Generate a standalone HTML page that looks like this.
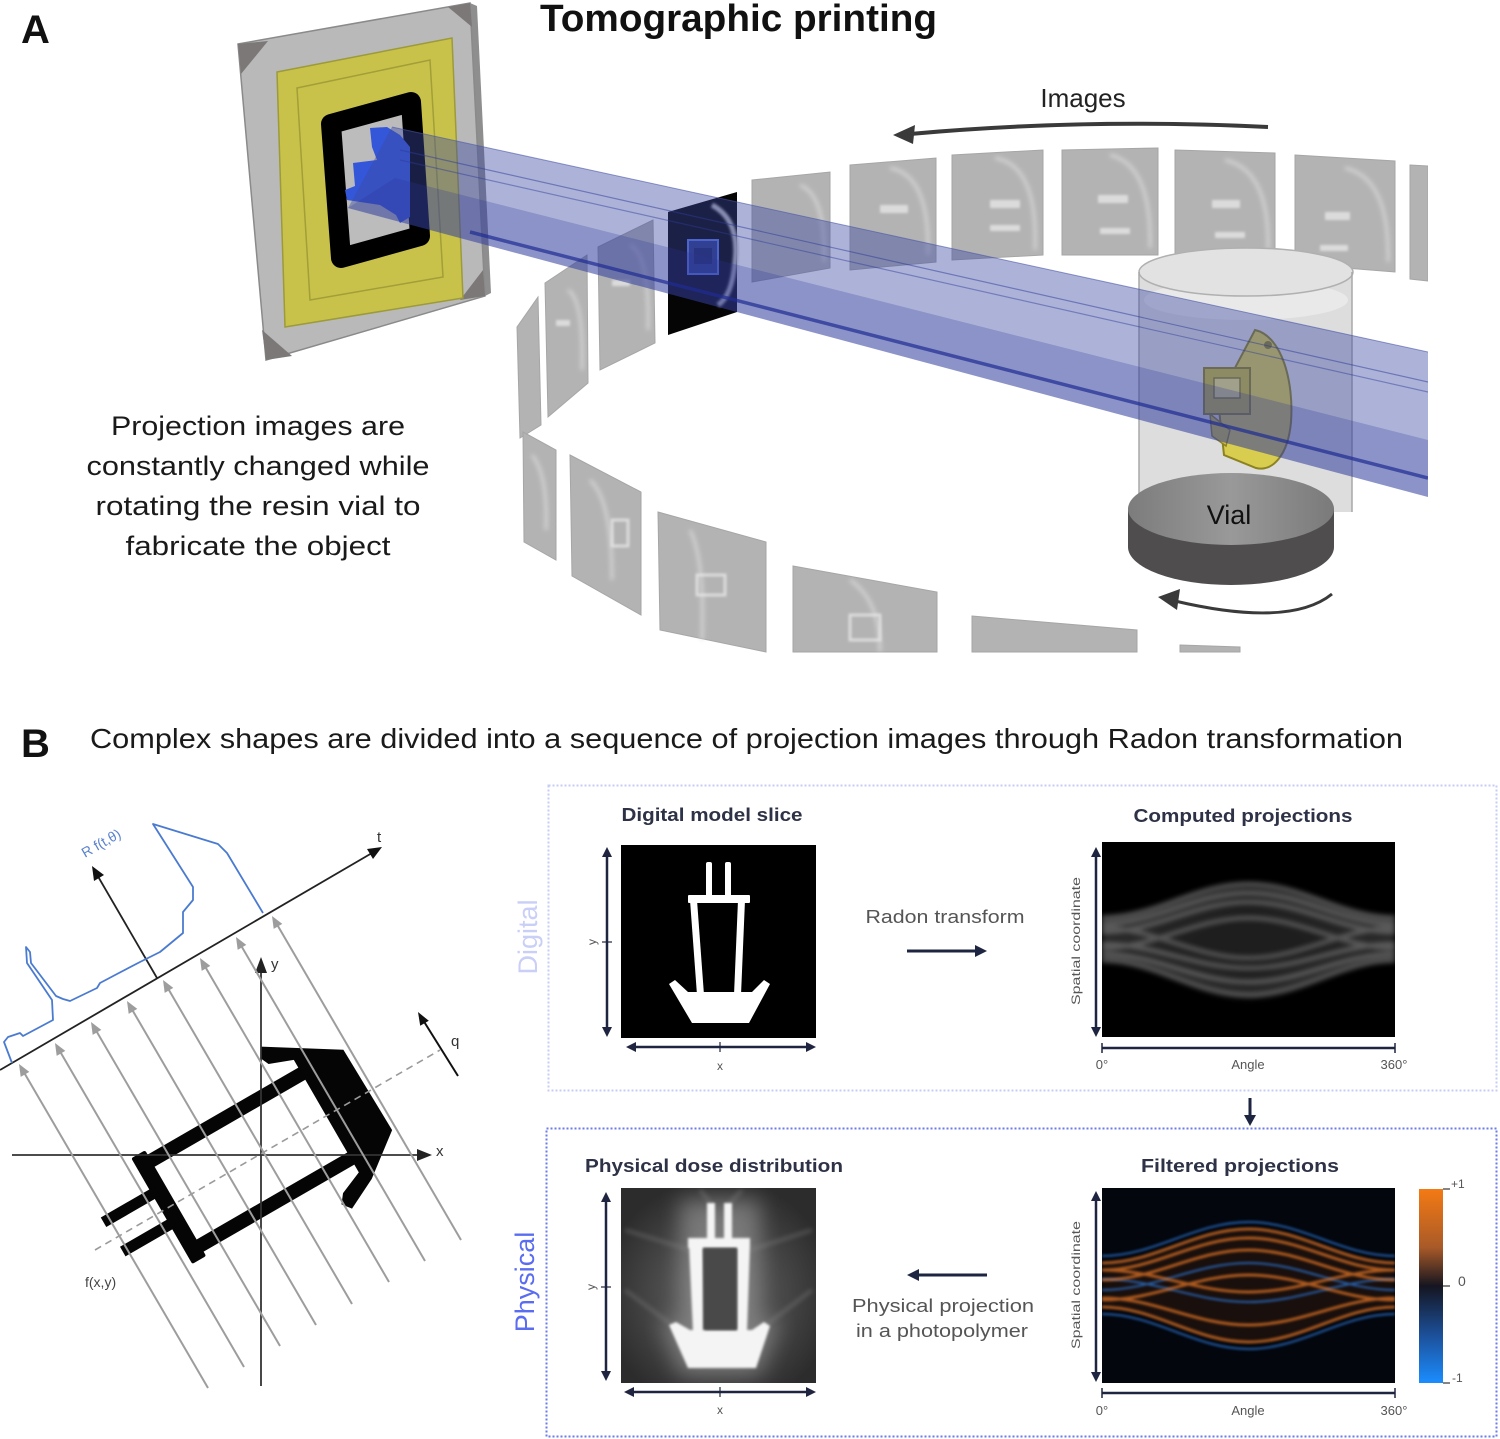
<!DOCTYPE html>
<html><head><meta charset="utf-8"><style>
html,body{margin:0;padding:0;background:#fff;}
svg{display:block;}
text{font-family:"Liberation Sans",sans-serif;}
</style></head><body>
<svg width="1500" height="1439" viewBox="0 0 1500 1439" xmlns="http://www.w3.org/2000/svg">
<defs>
 <filter id="b1" x="-20%" y="-20%" width="140%" height="140%"><feGaussianBlur stdDeviation="1.2"/></filter>
 <filter id="b2" x="-20%" y="-20%" width="140%" height="140%"><feGaussianBlur stdDeviation="2.5"/></filter>
 <filter id="b3" x="-20%" y="-20%" width="140%" height="140%"><feGaussianBlur stdDeviation="3.5"/></filter>
 <filter id="b6" x="-50%" y="-50%" width="200%" height="200%"><feGaussianBlur stdDeviation="10"/></filter>
 <linearGradient id="cbar" x1="0" y1="0" x2="0" y2="1">
  <stop offset="0" stop-color="#f47a14"/>
  <stop offset="0.3" stop-color="#a95a28"/>
  <stop offset="0.5" stop-color="#151520"/>
  <stop offset="0.75" stop-color="#1c4f98"/>
  <stop offset="1" stop-color="#1b8dff"/>
 </linearGradient>
 <radialGradient id="dose" cx="0.5" cy="0.55" r="0.6">
  <stop offset="0" stop-color="#6a6a6a"/>
  <stop offset="1" stop-color="#2c2c2c"/>
 </radialGradient>
 <linearGradient id="vialtop" x1="0" y1="0" x2="1" y2="0">
  <stop offset="0" stop-color="#7c7c7c"/>
  <stop offset="0.5" stop-color="#999"/>
  <stop offset="1" stop-color="#7a7a7a"/>
 </linearGradient>
 <clipPath id="clipA"><rect x="0" y="0" width="1428" height="653"/></clipPath>
 <clipPath id="clipC"><rect x="1102" y="842" width="293" height="195"/></clipPath>
 <clipPath id="clipF"><rect x="1102" y="1188" width="293" height="195"/></clipPath>
 <clipPath id="clipD"><rect x="621" y="1188" width="195" height="195"/></clipPath>
</defs>

<!-- ================= PART A ================= -->
<text x="21" y="43" font-size="40" font-weight="bold" fill="#111">A</text>
<text x="540" y="31" font-size="38" font-weight="bold" fill="#111" textLength="397" lengthAdjust="spacingAndGlyphs">Tomographic printing</text>

<g clip-path="url(#clipA)">
 <g fill="#b3b3b3" stroke="#a6a6a6" stroke-width="1">
  <polygon points="752,180 830,172 830,268 752,282"/>
  <polygon points="850,165 936,158 936,262 850,270"/>
  <polygon points="952,155 1043,150 1043,255 952,260"/>
  <polygon points="1062,150 1158,148 1158,255 1062,255"/>
  <polygon points="1175,150 1275,153 1275,262 1175,257"/>
  <polygon points="1295,155 1395,161 1395,272 1295,264"/>
  <polygon points="1410,165 1428,166 1428,281 1410,279"/>
  <polygon points="598,247 653,220 655,343 600,370"/>
  <polygon points="545,283 587,255 588,383 548,417"/>
  <polygon points="517,327 538,297 541,425 520,438"/>
 </g>
 <g filter="url(#b2)" fill="none" stroke="#dadada" stroke-width="3" opacity="0.9">
  <path d="M890,168 Q930,175 928,255"/>
  <path d="M995,158 Q1038,165 1035,250"/>
  <path d="M1110,155 Q1152,165 1150,248"/>
  <path d="M1225,160 Q1270,170 1268,250"/>
  <path d="M1345,168 Q1390,178 1388,262"/>
  <path d="M800,185 Q826,195 824,262"/>
  <path d="M630,245 Q650,255 648,330"/>
  <path d="M568,290 Q584,300 582,370"/>
 </g>
 <g filter="url(#b1)" fill="#e6e6e6" opacity="0.8">
  <rect x="880" y="205" width="28" height="8"/>
  <rect x="990" y="200" width="30" height="8"/><rect x="990" y="225" width="30" height="6"/>
  <rect x="1098" y="195" width="30" height="8"/><rect x="1100" y="228" width="30" height="6"/>
  <rect x="1212" y="200" width="28" height="8"/><rect x="1215" y="232" width="30" height="6"/>
  <rect x="1325" y="212" width="25" height="8"/><rect x="1320" y="245" width="28" height="6"/>
  <rect x="612" y="280" width="18" height="6"/><rect x="556" y="320" width="14" height="6"/>
 </g>

 <path d="M1139,272 L1139,512 L1352,512 L1352,272 Z" fill="#cfcfcf" opacity="0.7"/>
 <ellipse cx="1246" cy="300" rx="102" ry="20" fill="#ececec" opacity="0.8"/>
 <ellipse cx="1246" cy="272" rx="107" ry="24" fill="#e2e2e2" stroke="#b0b0b0" stroke-width="1.5"/>
 <line x1="1139" y1="272" x2="1139" y2="512" stroke="#a8a8a8" stroke-width="1.5"/>
 <line x1="1352" y1="272" x2="1352" y2="512" stroke="#a8a8a8" stroke-width="1.5"/>

 <g>
  <path d="M1255,330 C1282,336 1294,382 1291,422 C1288,456 1272,472 1256,468 L1224,455 L1218,400 Z" fill="#d9cd4f" stroke="#8c8222" stroke-width="2"/>
  <rect x="1204" y="368" width="46" height="46" fill="#c8ba36" stroke="#8c8222" stroke-width="2"/>
  <rect x="1214" y="378" width="26" height="20" fill="#e8df7a" stroke="#8c8222" stroke-width="1.5"/>
  <path d="M1210,414 L1230,430 L1226,446 L1212,436 Z" fill="#cfc240" stroke="#8c8222" stroke-width="1.5"/>
  <circle cx="1268" cy="345" r="4" fill="#8c8222"/>
 </g>

 <polygon points="668,212 737,192 737,312 668,335" fill="#050505"/>
 <path d="M712,205 Q740,220 735,262 Q732,296 718,305" fill="none" stroke="#bdbdbd" stroke-width="5" filter="url(#b1)"/>
 <rect x="688" y="240" width="30" height="34" fill="#2b3a8a" stroke="#5a78e8" stroke-width="2"/>
 <rect x="694" y="248" width="18" height="16" fill="#1a2566"/>

 <!-- frame / projector -->
 <polygon points="470,3 477,6 491,293 485,296" fill="#8e8e8e"/>
 <polygon points="238,44 470,3 485,296 266,360" fill="#b9b9b9" stroke="#8a8a8a" stroke-width="1.5"/>
 <g fill="#7d7878">
  <polygon points="238,44 268,41 241,74"/>
  <polygon points="448,7 470,3 472,27"/>
  <polygon points="483,270 485,296 460,300"/>
  <polygon points="262,330 266,360 292,356"/>
 </g>
 <polygon points="277,72 452,38 463,298 285,327" fill="#c8c24a" stroke="#9c9a3a" stroke-width="1.5"/>
 <polygon points="297,88 430,60 443,277 310,300" fill="none" stroke="#a29e38" stroke-width="1.5"/>
 <polygon points="331,124 411,102 420,236 341,258" fill="#bcbcbc" stroke="#000" stroke-width="20" stroke-linejoin="round"/>
 <polygon points="370,128 387,127 400,135 410,147 410,217 400,223 396,215 380,205 347,200 345,190 355,186 353,163 377,160 372,147" fill="#3456d8"/>

 <!-- beam -->
 <polygon points="392,127 1428,352 1428,497 348,208" fill="#3c4aa2" opacity="0.42"/>
 <polygon points="395,178 1428,440 1428,497 348,208" fill="#2a3596" opacity="0.25"/>
 <line x1="400" y1="150" x2="1428" y2="382" stroke="#2f3a98" stroke-width="1.2" opacity="0.5"/>
 <line x1="400" y1="160" x2="1428" y2="392" stroke="#2f3a98" stroke-width="1.2" opacity="0.45"/>
 <line x1="470" y1="232" x2="1428" y2="478" stroke="#1f2c92" stroke-width="3.5" opacity="0.7"/>
 <line x1="392" y1="127" x2="1428" y2="352" stroke="#4a56a8" stroke-width="1" opacity="0.6"/>

 <g fill="#b3b3b3" stroke="#a6a6a6" stroke-width="1">
  <polygon points="523,432 556,450 556,560 524,542"/>
  <polygon points="570,455 641,492 641,615 572,576"/>
  <polygon points="658,512 766,542 766,652 660,630"/>
  <polygon points="793,566 937,592 937,652 793,652"/>
  <polygon points="972,616 1137,630 1137,652 972,652"/>
  <polygon points="1180,645 1240,647 1240,652 1180,652"/>
 </g>
 <g filter="url(#b2)" fill="none" stroke="#dadada" stroke-width="3" opacity="0.9">
  <path d="M532,455 Q548,475 546,530"/>
  <path d="M590,480 Q612,500 612,580"/>
  <path d="M690,530 Q705,560 702,640"/>
  <path d="M850,580 Q880,600 880,652"/>
 </g>
 <g filter="url(#b1)" fill="none" stroke="#e6e6e6" stroke-width="3" opacity="0.8">
  <rect x="697" y="575" width="28" height="20"/>
  <rect x="612" y="520" width="16" height="26"/>
  <rect x="850" y="615" width="30" height="25"/>
 </g>

 <path d="M1128,509 L1128,547 A103,38 0 0 0 1334,547 L1334,509 Z" fill="#4f4d4d"/>
 <ellipse cx="1231" cy="509" rx="103" ry="36" fill="url(#vialtop)"/>
</g>

<text x="1229" y="524" font-size="27" fill="#111" text-anchor="middle">Vial</text>
<text x="1083" y="107" font-size="26" fill="#222" text-anchor="middle">Images</text>
<path d="M1268,127 Q1085,118 910,134" fill="none" stroke="#3a3a3a" stroke-width="4"/>
<polygon points="893,135 915,125 913,144" fill="#3a3a3a"/>
<path d="M1332,594 Q1290,628 1175,601" fill="none" stroke="#3a3a3a" stroke-width="3"/>
<polygon points="1158,597 1180,589 1177,610" fill="#3a3a3a"/>

<g font-size="27" fill="#1a1a1a" text-anchor="middle">
 <text x="258" y="435" textLength="294" lengthAdjust="spacingAndGlyphs">Projection images are</text>
 <text x="258" y="475" textLength="343" lengthAdjust="spacingAndGlyphs">constantly changed while</text>
 <text x="258" y="515" textLength="325" lengthAdjust="spacingAndGlyphs">rotating the resin vial to</text>
 <text x="258" y="555" textLength="265" lengthAdjust="spacingAndGlyphs">fabricate the object</text>
</g>

<!-- ================= PART B ================= -->
<text x="21" y="757" font-size="40" font-weight="bold" fill="#111">B</text>
<text x="90" y="748" font-size="28" fill="#1a1a1a" textLength="1313" lengthAdjust="spacingAndGlyphs">Complex shapes are divided into a sequence of projection images through Radon transformation</text>

<g>
 <g transform="translate(261,1155) rotate(-30)" fill="#050505">
  <rect x="-110" y="-57" width="190" height="14"/>
  <rect x="-110" y="41" width="190" height="14"/>
  <rect x="-114" y="-62" width="16" height="122" rx="2"/>
  <rect x="-170" y="-26" width="62" height="11"/>
  <rect x="-168" y="9" width="60" height="11"/>
  <polygon points="48,-84 54,-94 124,-50 126,44 84,76 52,92 45,83 52,74 76,64 76,-66 52,-75"/>
 </g>
 <line x1="261" y1="1386" x2="261" y2="970" stroke="#333" stroke-width="1.8"/>
 <polygon points="261,957 255,973 267,973" fill="#222"/>
 <line x1="12" y1="1155" x2="420" y2="1155" stroke="#333" stroke-width="1.8"/>
 <polygon points="432,1155 417,1149 417,1161" fill="#222"/>
 <line x1="95" y1="1250" x2="440" y2="1050" stroke="#9a9a9a" stroke-width="1.6" stroke-dasharray="7,5"/>
 <g stroke="#9d9d9d" stroke-width="2">
  <line x1="208" y1="1388" x2="22" y2="1069"/>
  <line x1="244" y1="1367" x2="58" y2="1048"/>
  <line x1="280" y1="1346" x2="94" y2="1027"/>
  <line x1="316" y1="1325" x2="130" y2="1006"/>
  <line x1="352" y1="1304" x2="166" y2="985"/>
  <line x1="389" y1="1282" x2="203" y2="963"/>
  <line x1="425" y1="1261" x2="239" y2="942"/>
  <line x1="461" y1="1240" x2="275" y2="921"/>
 </g>
 <g fill="#9d9d9d">
  <polygon points="19,1064 29.3,1071.9 20.7,1076.9"/>
  <polygon points="55,1043 65.3,1050.9 56.7,1055.9"/>
  <polygon points="91,1022 101.3,1029.9 92.7,1034.9"/>
  <polygon points="127,1001 137.3,1008.9 128.7,1013.9"/>
  <polygon points="163,980 173.3,987.9 164.7,992.9"/>
  <polygon points="200,958 210.3,965.9 201.7,970.9"/>
  <polygon points="236,937 246.3,944.9 237.7,949.9"/>
  <polygon points="272,916 282.3,923.9 273.7,928.9"/>
 </g>
 <line x1="0" y1="1070" x2="372" y2="853" stroke="#222" stroke-width="1.8"/>
 <polygon points="382,847 367,849 373,859" fill="#111"/>
 <line x1="157" y1="978" x2="96" y2="873" stroke="#222" stroke-width="1.8"/>
 <polygon points="92,866 104,875 94,881" fill="#111"/>
 <polyline fill="none" stroke="#4a7bd0" stroke-width="1.8" stroke-linejoin="round" points="12,1063 4,1042 8,1037 20,1033 23,1036 53,1020 52,1000 27,963 26,947 30,952 31,963 56,996 63,999 70,1001 97,988 100,983 117,974 140,962 160,952 183,933 183,912 193,900 193,887 153,824 218,844 227,853 263,913"/>
 <line x1="458" y1="1076" x2="423" y2="1020" stroke="#111" stroke-width="2"/>
 <polygon points="418,1012 428.8,1020.8 420.2,1025.8" fill="#111"/>
 <text x="377" y="842" font-size="15" fill="#333">t</text>
 <text x="271" y="969" font-size="15" fill="#333">y</text>
 <text x="436" y="1156" font-size="15" fill="#333">x</text>
 <text x="451" y="1046" font-size="15" fill="#333">q</text>
 <text x="85" y="1287" font-size="14" fill="#444">f(x,y)</text>
 <text transform="translate(85,858) rotate(-30)" font-size="14" fill="#5a82cc">R f(t,θ)</text>
</g>

<rect x="548.5" y="785.5" width="948" height="305" fill="none" stroke="#c6cdf4" stroke-width="2" stroke-dasharray="2,2"/>
<rect x="546.5" y="1128.5" width="950" height="308" fill="none" stroke="#6a7de8" stroke-width="2" stroke-dasharray="2,2"/>
<text transform="translate(537,937) rotate(-90)" font-size="27" fill="#c9cff6" text-anchor="middle">Digital</text>
<text transform="translate(534,1282) rotate(-90)" font-size="27" fill="#5a6cf0" text-anchor="middle">Physical</text>

<g font-size="18" font-weight="bold" fill="#2e3246" text-anchor="middle">
 <text x="712" y="821" textLength="181" lengthAdjust="spacingAndGlyphs">Digital model slice</text>
 <text x="1243" y="822" textLength="219" lengthAdjust="spacingAndGlyphs">Computed projections</text>
 <text x="714" y="1172" textLength="258" lengthAdjust="spacingAndGlyphs">Physical dose distribution</text>
 <text x="1240" y="1172" textLength="198" lengthAdjust="spacingAndGlyphs">Filtered projections</text>
</g>
<g font-size="18" fill="#555" text-anchor="middle">
 <text x="945" y="923" textLength="159" lengthAdjust="spacingAndGlyphs">Radon transform</text>
 <text x="943" y="1312" textLength="182" lengthAdjust="spacingAndGlyphs">Physical projection</text>
 <text x="942" y="1337" textLength="172" lengthAdjust="spacingAndGlyphs">in a photopolymer</text>
</g>
<line x1="907" y1="951" x2="978" y2="951" stroke="#1e2540" stroke-width="3"/>
<polygon points="987,951 975,945 975,957" fill="#1e2540"/>
<line x1="987" y1="1275" x2="917" y2="1275" stroke="#1e2540" stroke-width="3"/>
<polygon points="907,1275 919,1269 919,1281" fill="#1e2540"/>
<line x1="1250" y1="1098" x2="1250" y2="1117" stroke="#1e2540" stroke-width="3"/>
<polygon points="1250,1126 1244,1115 1256,1115" fill="#1e2540"/>

<rect x="621" y="845" width="195" height="193" fill="#000"/>
<g fill="#fff">
 <rect x="706" y="862" width="6" height="37" rx="2"/>
 <rect x="725" y="862" width="6" height="37" rx="2"/>
 <rect x="688" y="895" width="62" height="8" rx="1"/>
 <polygon points="690,900 697,900 704,995 697,995"/>
 <polygon points="738,900 745,900 741,995 734,995"/>
 <polygon points="669,984 675,980 688,992 752,992 764,980 770,984 749,1023 692,1023"/>
</g>

<rect x="1102" y="842" width="293" height="195" fill="#000"/>
<g clip-path="url(#clipC)">
 <path d="M1102,916 C1155,916 1195,883 1248.5,883 S1342,916 1395,916 L1395,962 C1342,962 1302,998 1248.5,998 S1155,962 1102,962 Z" fill="#fff" opacity="0.16" filter="url(#b3)"/>
 <path d="M1140,940 L1248.5,895 L1357,940 L1248.5,985 Z" fill="#000" opacity="0.25" filter="url(#b6)"/>
 <g fill="none" stroke="#fff" stroke-width="5" opacity="0.22" filter="url(#b2)">
  <path d="M1102,918 C1155,918 1195,884 1248.5,884 S1342,918 1395,918"/>
  <path d="M1102,924 C1155,924 1195,893 1248.5,893 S1342,924 1395,924"/>
  <path d="M1102,932 C1155,932 1195,902 1248.5,902 S1342,932 1395,932"/>
  <path d="M1102,948 C1155,948 1195,918 1248.5,918 S1342,948 1395,948"/>
  <path d="M1102,960 C1155,960 1195,995 1248.5,995 S1342,960 1395,960"/>
  <path d="M1102,954 C1155,954 1195,982 1248.5,982 S1342,954 1395,954"/>
  <path d="M1102,944 C1155,944 1195,968 1248.5,968 S1342,944 1395,944"/>
  <path d="M1102,928 C1155,928 1195,958 1248.5,958 S1342,928 1395,928"/>
 </g>
</g>

<rect x="621" y="1188" width="195" height="195" fill="url(#dose)"/>
<g clip-path="url(#clipD)">
 <g fill="#9a9a9a" opacity="0.6" filter="url(#b6)">
  <rect x="680" y="1200" width="80" height="140"/>
  <polygon points="660,1320 780,1320 760,1375 680,1375"/>
 </g>
 <g stroke="#888" stroke-width="3" opacity="0.45" filter="url(#b2)">
  <line x1="690" y1="1250" x2="625" y2="1230"/>
  <line x1="750" y1="1250" x2="812" y2="1230"/>
  <line x1="672" y1="1325" x2="625" y2="1290"/>
  <line x1="766" y1="1325" x2="812" y2="1290"/>
  <line x1="712" y1="1205" x2="700" y2="1190"/>
  <line x1="728" y1="1205" x2="742" y2="1190"/>
 </g>
 <g fill="#f4f4f4" filter="url(#b1)">
  <rect x="707" y="1203" width="8" height="40"/>
  <rect x="724" y="1203" width="8" height="40"/>
  <rect x="688" y="1238" width="62" height="10"/>
  <polygon points="689,1246 703,1246 705,1332 693,1332"/>
  <polygon points="737,1246 750,1246 747,1332 737,1332"/>
  <polygon points="669,1325 676,1322 690,1330 752,1330 764,1322 770,1326 756,1368 688,1368"/>
 </g>
 <rect x="703" y="1248" width="34" height="82" fill="#4a4a4a" filter="url(#b1)"/>
</g>

<rect x="1102" y="1188" width="293" height="195" fill="#03060d"/>
<g clip-path="url(#clipF)">
 <path d="M1102,1263 C1155,1263 1195,1229 1248.5,1229 S1342,1263 1395,1263 L1395,1307 C1342,1307 1302,1342 1248.5,1342 S1155,1307 1102,1307 Z" fill="#5a2a10" opacity="0.25" filter="url(#b2)"/>
 <g fill="none" stroke="#2f80e6" stroke-width="2" opacity="0.7" filter="url(#b1)">
  <path d="M1102,1256 C1155,1256 1195,1222 1248.5,1222 S1342,1256 1395,1256"/>
  <path d="M1102,1314 C1155,1314 1195,1349 1248.5,1349 S1342,1314 1395,1314"/>
  <path d="M1102,1290 C1155,1290 1195,1263 1248.5,1263 S1342,1290 1395,1290"/>
  <path d="M1102,1279 C1155,1279 1195,1302 1248.5,1302 S1342,1279 1395,1279"/>
 </g>
 <g fill="none" stroke="#ec7a26" stroke-width="3" opacity="0.7" filter="url(#b1)">
  <path d="M1102,1263 C1155,1263 1195,1229 1248.5,1229 S1342,1263 1395,1263"/>
  <path d="M1102,1270 C1155,1270 1195,1238 1248.5,1238 S1342,1270 1395,1270"/>
  <path d="M1102,1280 C1155,1280 1195,1250 1248.5,1250 S1342,1280 1395,1280"/>
  <path d="M1102,1300 C1155,1300 1195,1275 1248.5,1275 S1342,1300 1395,1300"/>
  <path d="M1102,1307 C1155,1307 1195,1342 1248.5,1342 S1342,1307 1395,1307"/>
  <path d="M1102,1298 C1155,1298 1195,1325 1248.5,1325 S1342,1298 1395,1298"/>
  <path d="M1102,1270 C1155,1270 1195,1292 1248.5,1292 S1342,1270 1395,1270"/>
 </g>
</g>

<rect x="1419" y="1189" width="24" height="194" fill="url(#cbar)"/>
<g stroke="#333" stroke-width="1.2">
 <line x1="1443" y1="1189" x2="1450" y2="1189"/>
 <line x1="1443" y1="1286" x2="1450" y2="1286"/>
 <line x1="1443" y1="1383" x2="1450" y2="1383"/>
</g>
<g font-size="12" fill="#555">
 <text x="1451" y="1188">+1</text>
 <text x="1458" y="1286" font-size="14">0</text>
 <text x="1452" y="1382">-1</text>
</g>

<g stroke="#1f2440" stroke-width="2.5" fill="none">
 <line x1="607" y1="855" x2="607" y2="1029"/>
 <line x1="634" y1="1047" x2="808" y2="1047"/>
 <line x1="602" y1="942" x2="612" y2="942" stroke-width="1.2"/>
 <line x1="720" y1="1042" x2="720" y2="1052" stroke-width="1.2"/>
 <line x1="1096" y1="855" x2="1096" y2="1029"/>
 <line x1="1102" y1="1048" x2="1395" y2="1048"/>
 <line x1="1102" y1="1043" x2="1102" y2="1053" stroke-width="1.5"/>
 <line x1="1395" y1="1043" x2="1395" y2="1053" stroke-width="1.5"/>
 <line x1="606" y1="1200" x2="606" y2="1373"/>
 <line x1="632" y1="1392" x2="808" y2="1392"/>
 <line x1="601" y1="1287" x2="611" y2="1287" stroke-width="1.2"/>
 <line x1="720" y1="1387" x2="720" y2="1397" stroke-width="1.2"/>
 <line x1="1096" y1="1199" x2="1096" y2="1374"/>
 <line x1="1102" y1="1393" x2="1395" y2="1393"/>
 <line x1="1102" y1="1388" x2="1102" y2="1398" stroke-width="1.5"/>
 <line x1="1395" y1="1388" x2="1395" y2="1398" stroke-width="1.5"/>
</g>
<g fill="#1f2440">
 <polygon points="607,847 602,857 612,857"/><polygon points="607,1037 602,1027 612,1027"/>
 <polygon points="626,1047 636,1042 636,1052"/><polygon points="816,1047 806,1042 806,1052"/>
 <polygon points="1096,847 1091,857 1101,857"/><polygon points="1096,1037 1091,1027 1101,1027"/>
 <polygon points="606,1192 601,1202 611,1202"/><polygon points="606,1381 601,1371 611,1371"/>
 <polygon points="624,1392 634,1387 634,1397"/><polygon points="816,1392 806,1387 806,1397"/>
 <polygon points="1096,1191 1091,1201 1101,1201"/><polygon points="1096,1382 1091,1372 1101,1372"/>
</g>
<g font-size="12" fill="#555" text-anchor="middle">
 <text transform="translate(596,942) rotate(-90)">y</text>
 <text x="720" y="1070">x</text>
 <text transform="translate(595,1287) rotate(-90)">y</text>
 <text x="720" y="1414">x</text>
 <text transform="translate(1080,941) rotate(-90)" textLength="128" lengthAdjust="spacingAndGlyphs">Spatial coordinate</text>
 <text transform="translate(1080,1285) rotate(-90)" textLength="128" lengthAdjust="spacingAndGlyphs">Spatial coordinate</text>
</g>
<g font-size="13" fill="#555" text-anchor="middle">
 <text x="1102" y="1069">0°</text>
 <text x="1248" y="1069">Angle</text>
 <text x="1394" y="1069">360°</text>
 <text x="1102" y="1415">0°</text>
 <text x="1248" y="1415">Angle</text>
 <text x="1394" y="1415">360°</text>
</g>
</svg>
</body></html>
